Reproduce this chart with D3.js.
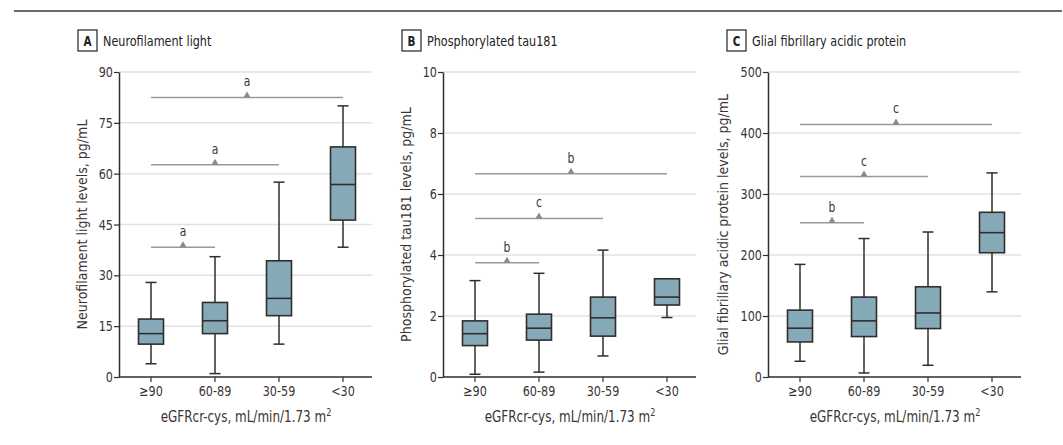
<!DOCTYPE html>
<html>
<head>
<meta charset="utf-8">
<script src="https://cdn.jsdelivr.net/npm/d3@7"></script>
<style>
  html, body { margin: 0; padding: 0; background: #fff; }
  svg text { font-family: "Liberation Sans Narrow", "DejaVu Sans Condensed", "Roboto Condensed", sans-serif; fill: #3a3434; }
</style>
</head>
<body>
<svg id="chart" width="1063" height="445"></svg>
<script>
// eGFR groups shown on every panel
const categories = ["≥90", "60-89", "30-59", "<30"];

// Five-number summaries per group: [lower whisker, Q1, median, Q3, upper whisker]
const nflBoxes = [
  [3.9, 9.7, 12.8, 17.1, 27.9],
  [1.0, 12.8, 16.6, 22.0, 35.5],
  [9.7, 18.1, 23.2, 34.3, 57.5],
  [38.3, 46.3, 56.8, 67.9, 80.0]
];
const tauBoxes = [
  [0.09, 1.03, 1.42, 1.84, 3.16],
  [0.16, 1.21, 1.60, 2.06, 3.40],
  [0.69, 1.34, 1.94, 2.62, 4.16],
  [1.95, 2.36, 2.62, 3.22, 3.22]
];
const gfapBoxes = [
  [25.8, 57.5, 80.0, 109.6, 184.6],
  [6.6, 66.3, 92.0, 131.0, 227.0],
  [19.2, 79.4, 105.0, 147.9, 237.7],
  [139.6, 203.7, 236.6, 270.0, 334.6]
];

// y-axis tick labels
const nflTicks = [0, 15, 30, 45, 60, 75, 90];
const tauTicks = [0, 2, 4, 6, 8, 10];
const gfapTicks = [0, 100, 200, 300, 400, 500];

// Pairwise comparisons against the ≥90 group: [other group, bracket height, significance letter]
const nflBrackets = [["<30", 82.5, "a"], ["30-59", 62.6, "a"], ["60-89", 38.3, "a"]];
const tauBrackets = [["<30", 6.66, "b"], ["30-59", 5.20, "c"], ["60-89", 3.75, "b"]];
const gfapBrackets = [["<30", 414, "c"], ["30-59", 328.5, "c"], ["60-89", 253, "b"]];

const panels = [
  { letter: "A", title: "Neurofilament light", yTitle: "Neurofilament light levels, pg/mL",
    boxes: nflBoxes, ticks: nflTicks, brackets: nflBrackets, x0: 119, yTitleX: 87 },
  { letter: "B", title: "Phosphorylated tau181", yTitle: "Phosphorylated tau181 levels, pg/mL",
    boxes: tauBoxes, ticks: tauTicks, brackets: tauBrackets, x0: 443, yTitleX: 411 },
  { letter: "C", title: "Glial fibrillary acidic protein", yTitle: "Glial fibrillary acidic protein levels, pg/mL",
    boxes: gfapBoxes, ticks: gfapTicks, brackets: gfapBrackets, x0: 768, yTitleX: 728 }
];

const svg = d3.select("#chart");
const plotTop = 72, plotBottom = 377, plotW = 253, boxW = 25, capW = 11;
const boxFill = "#86a9b7", dark = "#2e2e2e", sigGrey = "#9a9a9a";
const narrow = 0.86; // horizontal squeeze for the condensed lettering

// place a horizontally condensed text at (x, y)
function label(g, x, y, txt, size, anchor) {
  return g.append("text")
    .attr("transform", `translate(${x},${y}) scale(${narrow},1)`)
    .attr("text-anchor", anchor || "start")
    .attr("font-size", size)
    .text(txt);
}

// rule across the top of the figure
svg.append("line").attr("x1", 14).attr("x2", 1062).attr("y1", 11).attr("y2", 11)
  .attr("stroke", "#6a6a6a").attr("stroke-width", 2);

panels.forEach(p => {
  const g = svg.append("g");
  const x = d3.scaleBand().domain(categories).range([p.x0, p.x0 + 256]);
  const cx = c => x(c) + x.bandwidth() / 2;
  const y = d3.scaleLinear().domain([0, d3.max(p.ticks)]).range([plotBottom, plotTop]);

  // panel heading with letter box
  const hx = p.x0 - 41;
  g.append("rect").attr("x", hx).attr("y", 30).attr("width", 19).attr("height", 21)
    .attr("fill", "#fff").attr("stroke", "#222").attr("stroke-width", 1.2);
  label(g, hx + 9.5, 46, p.letter, 13.5, "middle").attr("font-weight", "bold").style("fill", "#222");
  label(g, hx + 25, 46, p.title, 14.5).style("fill", "#222");

  // horizontal gridlines
  g.selectAll(".grid").data(p.ticks.filter(t => t > 0)).join("line")
    .attr("x1", p.x0).attr("x2", p.x0 + plotW)
    .attr("y1", d => y(d)).attr("y2", d => y(d))
    .attr("stroke", "#e2e2e2").attr("stroke-width", 1.5);

  // y axis
  const ya = g.append("g").attr("transform", `translate(${p.x0},0)`)
    .call(d3.axisLeft(y).tickValues(p.ticks).tickSize(5).tickSizeOuter(0).tickPadding(2));
  ya.select(".domain").attr("stroke", dark).attr("stroke-width", 1.5);
  ya.selectAll(".tick line").attr("stroke", dark).attr("stroke-width", 1.2);
  ya.selectAll(".tick text").attr("font-size", 14.5).attr("font-family", null)
    .attr("transform", `scale(${narrow},1)`);

  // x axis
  const xa = g.append("g").attr("transform", `translate(0,${plotBottom})`)
    .call(d3.axisBottom(x).tickSize(5).tickSizeOuter(0).tickPadding(4));
  xa.select(".domain").attr("d", `M${p.x0},0H${p.x0 + plotW}`).attr("stroke", dark).attr("stroke-width", 1.5);
  xa.selectAll(".tick line").attr("stroke", dark).attr("stroke-width", 1.2);
  xa.selectAll(".tick text").attr("font-size", 14.5).attr("font-family", null)
    .attr("transform", `scale(${narrow},1)`);

  // axis titles
  const xt = label(g, p.x0 + 127, 422, null, 15.5, "middle");
  xt.append("tspan").text("eGFRcr-cys, mL/min/1.73 m");
  xt.append("tspan").attr("font-size", 10.5).attr("dy", -6).text("2");
  g.append("text").attr("transform", `translate(${p.yTitleX},${(plotTop + plotBottom) / 2}) rotate(-90)`)
    .attr("text-anchor", "middle").attr("font-size", 14).text(p.yTitle);

  // box plots
  const bx = g.selectAll(".box").data(p.boxes.map((b, i) => ({ c: categories[i], b }))).join("g");
  bx.append("line").attr("x1", d => cx(d.c)).attr("x2", d => cx(d.c))
    .attr("y1", d => y(d.b[0])).attr("y2", d => y(d.b[4])).attr("stroke", dark).attr("stroke-width", 1.5);
  [0, 4].forEach(k => bx.append("line")
    .attr("x1", d => cx(d.c) - capW / 2).attr("x2", d => cx(d.c) + capW / 2)
    .attr("y1", d => y(d.b[k])).attr("y2", d => y(d.b[k])).attr("stroke", dark).attr("stroke-width", 1.5));
  bx.append("rect").attr("x", d => cx(d.c) - boxW / 2).attr("width", boxW)
    .attr("y", d => y(d.b[3])).attr("height", d => y(d.b[1]) - y(d.b[3]))
    .attr("fill", boxFill).attr("stroke", dark).attr("stroke-width", 1.6);
  bx.append("line").attr("x1", d => cx(d.c) - boxW / 2).attr("x2", d => cx(d.c) + boxW / 2)
    .attr("y1", d => y(d.b[2])).attr("y2", d => y(d.b[2])).attr("stroke", dark).attr("stroke-width", 1.6);

  // significance brackets
  const mid = d => (cx(categories[0]) + cx(d[0])) / 2;
  p.brackets.forEach(d => {
    const yy = y(d[1]);
    g.append("line").attr("x1", cx(categories[0])).attr("x2", cx(d[0]))
      .attr("y1", yy).attr("y2", yy).attr("stroke", sigGrey).attr("stroke-width", 1.5);
    g.append("path").attr("d", `M${mid(d) - 3.5},${yy}L${mid(d)},${yy - 6}L${mid(d) + 3.5},${yy}Z`)
      .attr("fill", "#8a8a8a");
    label(g, mid(d), yy - 11, d[2], 14, "middle");
  });
});
</script>
</body>
</html>
